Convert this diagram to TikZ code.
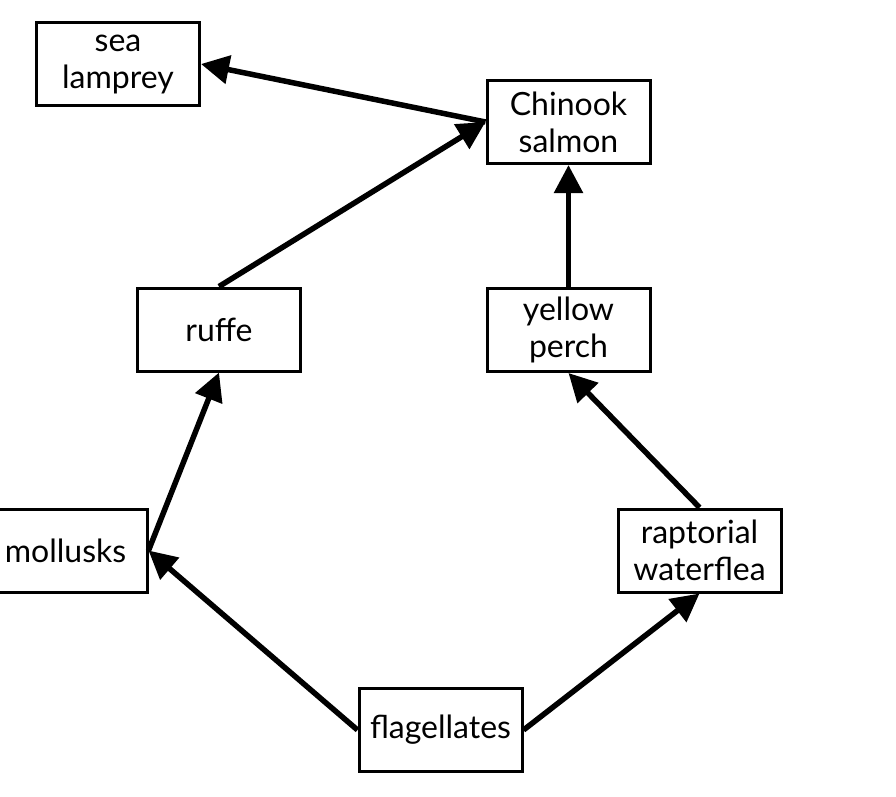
\documentclass[tikz,border=0pt]{standalone}
\usepackage{fontspec}
\setmainfont{Lato}
\usetikzlibrary{arrows.meta}
\begin{document}
\begin{tikzpicture}[x=1pt,y=-1pt,
  box/.style={draw=black,line width=3pt,minimum width=163pt,minimum height=83pt,
    inner sep=0pt,align=center,font=\fontsize{32pt}{37pt}\selectfont},
  link/.style={line width=5.5pt,-{Triangle[length=28pt,width=28pt]}}]
\clip (0,0) rectangle (896,796);
\fill[white] (0,0) rectangle (896,796);
\node[box] (lamprey) at (118,64) {sea\\lamprey};
\node[box] (chinook) at (568.5,122) {Chinook\\salmon};
\node[box] (ruffe) at (219,329.5) {ruffe};
\node[box] (perch) at (568.5,330) {yellow\\perch};
\node[box] (mollusks) at (65.5,550.5) {mollusks};
\node[box] (waterflea) at (699.5,550.5) {raptorial\\waterflea};
\node[box] (flag) at (440.5,730) {flagellates};
\draw[link] (chinook.west) -- (lamprey.east);
\draw[link] (ruffe.north) -- (chinook.west);
\draw[link] (perch.north) -- (chinook.south);
\draw[link] (mollusks.east) -- (ruffe.south);
\draw[link] (waterflea.north) -- (perch.south);
\draw[link] (flag.west) -- (mollusks.east);
\draw[link] (flag.east) -- (waterflea.south);
\end{tikzpicture}
\end{document}
